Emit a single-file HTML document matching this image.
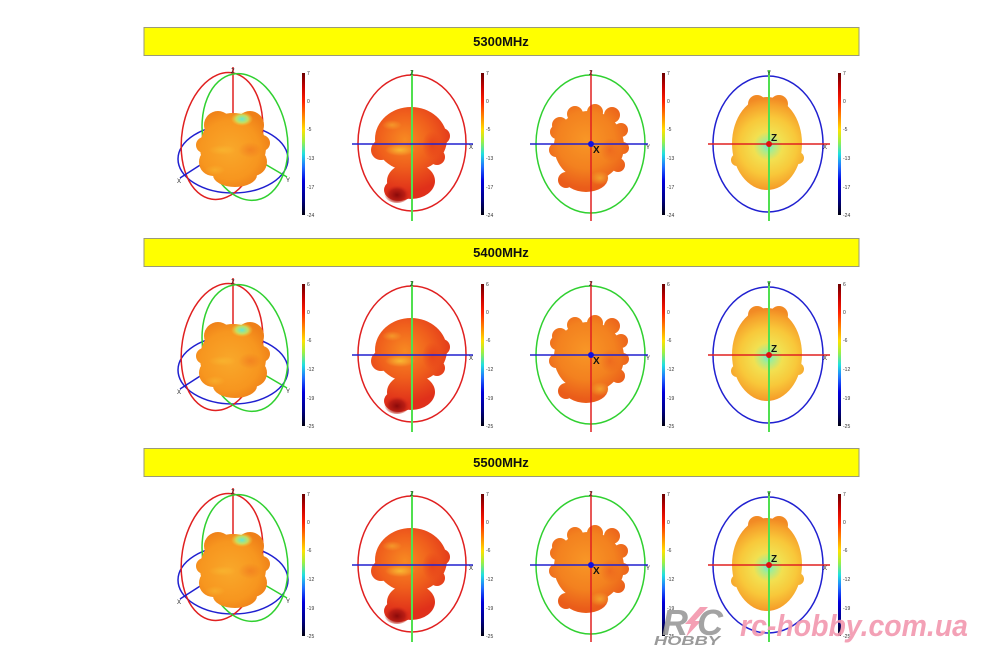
<!DOCTYPE html>
<html><head><meta charset="utf-8">
<style>
html,body{margin:0;padding:0;background:#fff;}
svg{display:block;}
.bt{font-family:"Liberation Sans",Arial,sans-serif;font-weight:bold;font-size:13px;fill:#111;}
.cl{font-family:"Liberation Sans",Arial,sans-serif;font-size:5px;fill:#333;}
.al{font-family:"Liberation Sans",Arial,sans-serif;font-size:6px;fill:#222;}
.ab{font-family:"Liberation Sans",Arial,sans-serif;font-size:10px;font-weight:bold;fill:#111;}
</style></head>
<body>
<svg width="1000" height="667" viewBox="0 0 1000 667" xmlns="http://www.w3.org/2000/svg">
<defs>
<linearGradient id="cb" x1="0" y1="0" x2="0" y2="1">
<stop offset="0" stop-color="#6a0000"/><stop offset="0.1" stop-color="#c80000"/>
<stop offset="0.2" stop-color="#ff2000"/><stop offset="0.3" stop-color="#ff8000"/>
<stop offset="0.4" stop-color="#ffe000"/><stop offset="0.48" stop-color="#a0f040"/>
<stop offset="0.57" stop-color="#20e0e0"/><stop offset="0.66" stop-color="#2070ff"/>
<stop offset="0.76" stop-color="#0000e0"/><stop offset="0.9" stop-color="#000080"/>
<stop offset="1" stop-color="#000010"/>
</linearGradient>
<radialGradient id="g1" gradientUnits="userSpaceOnUse" cx="230" cy="150" r="42">
<stop offset="0" stop-color="#f9a82a"/><stop offset="0.7" stop-color="#f7961f"/><stop offset="1" stop-color="#ef8018"/>
</radialGradient>
<radialGradient id="cy1" cx="0.5" cy="0.5" r="0.5">
<stop offset="0" stop-color="#60e8d8" stop-opacity="1"/><stop offset="0.55" stop-color="#b8f070" stop-opacity="0.8"/><stop offset="1" stop-color="#f7d040" stop-opacity="0"/>
</radialGradient>
<radialGradient id="g2" gradientUnits="userSpaceOnUse" cx="405" cy="140" r="52">
<stop offset="0" stop-color="#f78a22"/><stop offset="0.5" stop-color="#f0601c"/><stop offset="1" stop-color="#e0301a"/>
</radialGradient>
<radialGradient id="dk" cx="0.5" cy="0.6" r="0.5">
<stop offset="0" stop-color="#8a0a0a" stop-opacity="1"/><stop offset="0.6" stop-color="#b01812" stop-opacity="0.8"/><stop offset="1" stop-color="#d83018" stop-opacity="0"/>
</radialGradient>
<radialGradient id="yl" cx="0.5" cy="0.5" r="0.5">
<stop offset="0" stop-color="#f8c838" stop-opacity="0.8"/><stop offset="1" stop-color="#f8c838" stop-opacity="0"/>
</radialGradient>
<radialGradient id="rd" cx="0.5" cy="0.5" r="0.5">
<stop offset="0" stop-color="#e43a1a" stop-opacity="0.7"/><stop offset="1" stop-color="#e43a1a" stop-opacity="0"/>
</radialGradient>
<radialGradient id="g3" gradientUnits="userSpaceOnUse" cx="586" cy="140" r="48">
<stop offset="0" stop-color="#f89626"/><stop offset="0.6" stop-color="#f3811f"/><stop offset="1" stop-color="#ea5c1a"/>
</radialGradient>
<radialGradient id="g4" gradientUnits="userSpaceOnUse" cx="768" cy="146" r="48">
<stop offset="0" stop-color="#70e4dc"/><stop offset="0.12" stop-color="#a8ec90"/>
<stop offset="0.3" stop-color="#f2e050"/><stop offset="0.6" stop-color="#f8c83a"/>
<stop offset="0.85" stop-color="#f6a42c"/><stop offset="1" stop-color="#f28a24"/>
</radialGradient>

<g id="row">
  <rect x="144" y="27.5" width="715" height="28" fill="#ffff00" stroke="#9a9a7a" stroke-width="1"/>
  <!-- plot 1 3D -->
  <line x1="233" y1="67" x2="233" y2="115" stroke="#e02020" stroke-width="1.5"/>
  <ellipse cx="233" cy="159" rx="55" ry="34" fill="none" stroke="#2020d0" stroke-width="1.5"/>
  <ellipse cx="222" cy="136" rx="40" ry="64" transform="rotate(9.4 222 136)" fill="none" stroke="#e02020" stroke-width="1.5"/>
  <ellipse cx="245" cy="137" rx="42" ry="64" transform="rotate(-10.9 245 137)" fill="none" stroke="#30d030" stroke-width="1.5"/>
  <line x1="208" y1="160" x2="180" y2="178" stroke="#2020d0" stroke-width="1.5"/>
  <line x1="258" y1="160" x2="287" y2="177" stroke="#30d030" stroke-width="1.5"/>
  <g fill="url(#g1)">
    <ellipse cx="233" cy="147" rx="33" ry="34"/>
    <circle cx="213" cy="162" r="14"/><circle cx="253" cy="162" r="14"/>
    <ellipse cx="235" cy="175" rx="22" ry="12"/>
    <circle cx="218" cy="125" r="14"/><circle cx="250" cy="125" r="14"/>
    <circle cx="204" cy="145" r="8"/><circle cx="262" cy="143" r="8"/>
  </g>
  <ellipse cx="242" cy="119" rx="11" ry="7" fill="url(#cy1)"/>
  <ellipse cx="222" cy="150" rx="14" ry="5" fill="url(#yl)" opacity="0.5"/>
  <ellipse cx="250" cy="150" rx="12" ry="8" fill="url(#rd)" opacity="0.35"/>
  <ellipse cx="215" cy="170" rx="10" ry="5" fill="url(#yl)" opacity="0.5"/>
  <rect x="302" y="73" width="3" height="142" fill="url(#cb)"/>
  <!-- plot 2 -->
  <ellipse cx="412" cy="143" rx="54" ry="68" fill="none" stroke="#e02020" stroke-width="1.5"/>
  <g fill="url(#g2)">
    <ellipse cx="411" cy="139" rx="36" ry="32"/>
    <circle cx="381" cy="150" r="10"/><circle cx="442" cy="136" r="8"/>
    <circle cx="437" cy="157" r="8"/>
    <ellipse cx="411" cy="181" rx="24" ry="18"/>
    <ellipse cx="399" cy="190" rx="15" ry="11"/>
  </g>
  <ellipse cx="397" cy="193" rx="13" ry="10" fill="url(#dk)"/>
  <ellipse cx="400" cy="150" rx="15" ry="6" fill="url(#yl)"/>
  <ellipse cx="392" cy="125" rx="10" ry="5" fill="url(#yl)" opacity="0.6"/>
  <ellipse cx="432" cy="145" rx="10" ry="14" fill="url(#rd)"/>
  <line x1="412" y1="70" x2="412" y2="221" stroke="#50e050" stroke-width="2"/>
  <line x1="352" y1="144" x2="473" y2="144" stroke="#2020d0" stroke-width="1.5"/>
  <rect x="481" y="73" width="3" height="142" fill="url(#cb)"/>
  <!-- plot 3 -->
  <ellipse cx="590.5" cy="144" rx="54.5" ry="69" fill="none" stroke="#30d030" stroke-width="1.5"/>
  <g fill="url(#g3)">
    <ellipse cx="589" cy="146" rx="35" ry="35"/>
    <circle cx="560" cy="125" r="8"/><circle cx="575" cy="114" r="8"/>
    <circle cx="595" cy="112" r="8"/><circle cx="612" cy="115" r="8"/>
    <circle cx="621" cy="130" r="7"/><circle cx="623" cy="148" r="6"/>
    <circle cx="618" cy="165" r="7"/><circle cx="556" cy="150" r="7"/>
    <circle cx="557" cy="132" r="7"/>
    <ellipse cx="586" cy="178" rx="22" ry="14"/>
    <circle cx="566" cy="180" r="8"/>
  </g>
  <ellipse cx="600" cy="178" rx="10" ry="7" fill="url(#yl)" opacity="0.7"/>
  <ellipse cx="610" cy="150" rx="10" ry="12" fill="url(#rd)" opacity="0.5"/>
  <line x1="591" y1="70" x2="591" y2="221" stroke="#e02020" stroke-width="1.5"/>
  <line x1="530" y1="144" x2="648" y2="144" stroke="#2020d0" stroke-width="1.5"/>
  <circle cx="591" cy="144" r="3" fill="#1010e0"/>
  <rect x="662" y="73" width="3" height="142" fill="url(#cb)"/>
  <!-- plot 4 -->
  <ellipse cx="768" cy="144" rx="55" ry="68" fill="none" stroke="#2020d0" stroke-width="1.5"/>
  <g fill="url(#g4)">
    <ellipse cx="767" cy="143.5" rx="35" ry="46.5"/>
    <circle cx="757" cy="104" r="9"/><circle cx="779" cy="104" r="9"/>
    <circle cx="737" cy="160" r="6"/><circle cx="798" cy="158" r="6"/>
  </g>
  <line x1="769" y1="70" x2="769" y2="221" stroke="#50e050" stroke-width="2"/>
  <line x1="708" y1="144" x2="830" y2="144" stroke="#e02020" stroke-width="1.5"/>
  <circle cx="769" cy="144" r="3" fill="#e01010"/>
  <rect x="838" y="73" width="3" height="142" fill="url(#cb)"/>
</g>
</defs>

<use href="#row"/>
<use href="#row" y="211"/>
<use href="#row" y="421"/>

<!-- Row 1 text -->
<text class="bt" x="501" y="46" text-anchor="middle">5300MHz</text>
<g class="al">
<text x="231" y="73">Z</text><text x="177" y="183">X</text><text x="286" y="182">Y</text>
<text x="410" y="75">Z</text><text x="469" y="149">X</text>
<text x="589" y="75">Z</text><text x="646" y="149">Y</text>
<text x="767" y="75">Y</text><text x="823" y="149">X</text>
</g>
<text class="ab" x="593" y="153">X</text>
<text class="ab" x="771" y="141">Z</text>
<g class="cl">
<text x="307" y="75">7</text><text x="307" y="103">0</text><text x="307" y="131">-5</text><text x="307" y="160">-13</text><text x="307" y="189">-17</text><text x="307" y="217">-24</text>
<text x="486" y="75">7</text><text x="486" y="103">0</text><text x="486" y="131">-5</text><text x="486" y="160">-13</text><text x="486" y="189">-17</text><text x="486" y="217">-24</text>
<text x="667" y="75">7</text><text x="667" y="103">0</text><text x="667" y="131">-5</text><text x="667" y="160">-13</text><text x="667" y="189">-17</text><text x="667" y="217">-24</text>
<text x="843" y="75">7</text><text x="843" y="103">0</text><text x="843" y="131">-5</text><text x="843" y="160">-13</text><text x="843" y="189">-17</text><text x="843" y="217">-24</text>
</g>

<!-- Row 2 text -->
<text class="bt" x="501" y="257" text-anchor="middle">5400MHz</text>
<g class="al">
<text x="231" y="284">Z</text><text x="177" y="394">X</text><text x="286" y="393">Y</text>
<text x="410" y="286">Z</text><text x="469" y="360">X</text>
<text x="589" y="286">Z</text><text x="646" y="360">Y</text>
<text x="767" y="286">Y</text><text x="823" y="360">X</text>
</g>
<text class="ab" x="593" y="364">X</text>
<text class="ab" x="771" y="352">Z</text>
<g class="cl">
<text x="307" y="286">6</text><text x="307" y="314">0</text><text x="307" y="342">-6</text><text x="307" y="371">-12</text><text x="307" y="400">-19</text><text x="307" y="428">-25</text>
<text x="486" y="286">6</text><text x="486" y="314">0</text><text x="486" y="342">-6</text><text x="486" y="371">-12</text><text x="486" y="400">-19</text><text x="486" y="428">-25</text>
<text x="667" y="286">6</text><text x="667" y="314">0</text><text x="667" y="342">-6</text><text x="667" y="371">-12</text><text x="667" y="400">-19</text><text x="667" y="428">-25</text>
<text x="843" y="286">6</text><text x="843" y="314">0</text><text x="843" y="342">-6</text><text x="843" y="371">-12</text><text x="843" y="400">-19</text><text x="843" y="428">-25</text>
</g>

<!-- Row 3 text -->
<text class="bt" x="501" y="467" text-anchor="middle">5500MHz</text>
<g class="al">
<text x="231" y="494">Z</text><text x="177" y="604">X</text><text x="286" y="603">Y</text>
<text x="410" y="496">Z</text><text x="469" y="570">X</text>
<text x="589" y="496">Z</text><text x="646" y="570">Y</text>
<text x="767" y="496">Y</text><text x="823" y="570">X</text>
</g>
<text class="ab" x="593" y="574">X</text>
<text class="ab" x="771" y="562">Z</text>
<g class="cl">
<text x="307" y="496">7</text><text x="307" y="524">0</text><text x="307" y="552">-6</text><text x="307" y="581">-12</text><text x="307" y="610">-19</text><text x="307" y="638">-25</text>
<text x="486" y="496">7</text><text x="486" y="524">0</text><text x="486" y="552">-6</text><text x="486" y="581">-12</text><text x="486" y="610">-19</text><text x="486" y="638">-25</text>
<text x="667" y="496">7</text><text x="667" y="524">0</text><text x="667" y="552">-6</text><text x="667" y="581">-12</text><text x="667" y="610">-19</text><text x="667" y="638">-25</text>
<text x="843" y="496">7</text><text x="843" y="524">0</text><text x="843" y="552">-6</text><text x="843" y="581">-12</text><text x="843" y="610">-19</text><text x="843" y="638">-25</text>
</g>

<!-- Watermark -->
<g font-family="'Liberation Sans',Arial,sans-serif" font-weight="bold" font-style="italic">
  <text x="662" y="635" font-size="36" fill="#9a9a9a" opacity="0.9">R</text>
  <polygon points="700,607 708,607 695,621 701,621 686,637 691,624 685,624" fill="#f4a0b4"/>
  <text x="697" y="635" font-size="36" fill="#9a9a9a" opacity="0.9">C</text>
  <text x="654" y="645" font-size="13" fill="#9a9a9a" textLength="66" lengthAdjust="spacingAndGlyphs">HOBBY</text>
  <text x="740" y="636" font-size="31" fill="#f39ab0" opacity="0.92" textLength="228" lengthAdjust="spacingAndGlyphs">rc-hobby.com.ua</text>
</g>
</svg>
</body></html>
